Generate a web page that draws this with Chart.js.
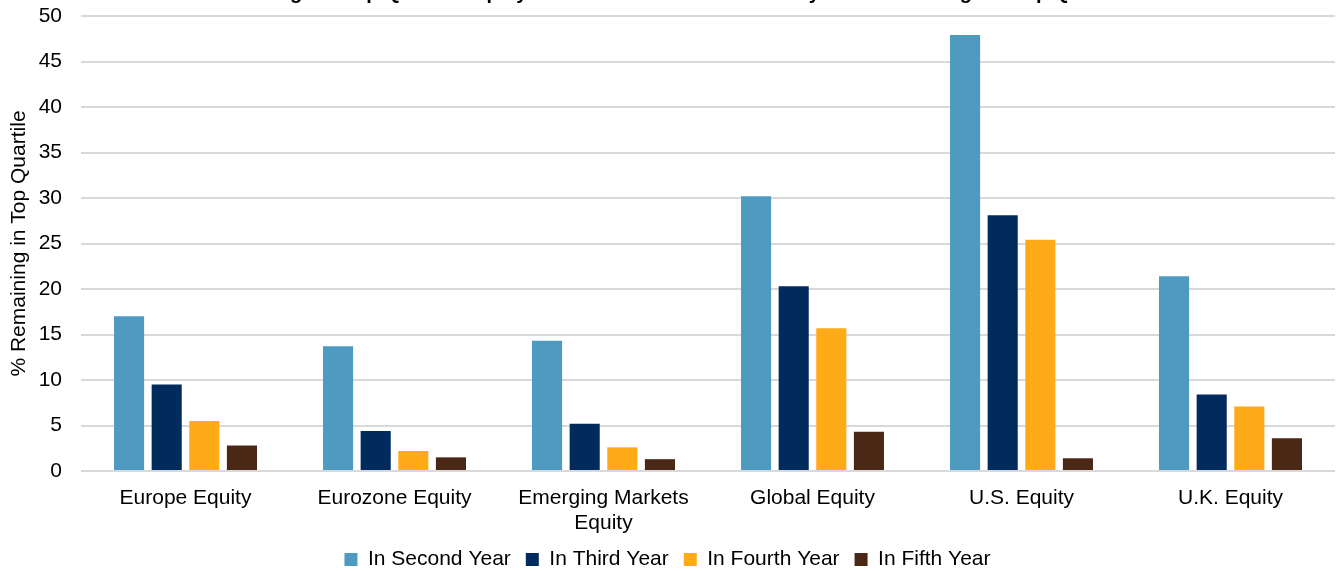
<!DOCTYPE html>
<html lang="en">
<head>
    <meta charset="UTF-8">
    <title>Top-Quartile Equity Funds</title>
    <style>
        body {
            margin: 0;
            padding: 0;
            background: #ffffff;
        }
        .frame {
            position: relative;
            width: 1336px;
            height: 571px;
            overflow: hidden;
        }
        .inner {
            position: absolute;
            left: 0;
            top: -16px;
            width: 1336px;
            height: 596px;
        }
    </style>
</head>
<body>
    <div class="frame">
        <div class="inner">
            <canvas id="chart"></canvas>
        </div>
    </div>

    <script src="https://cdn.jsdelivr.net/npm/chart.js"></script>
    <script>
        // categories along the x axis
        const categories = [
            'Europe Equity',
            'Eurozone Equity',
            ['Emerging Markets', 'Equity'],
            'Global Equity',
            'U.S. Equity',
            'U.K. Equity'
        ];

        // % of top-quartile funds still in the top quartile
        const inSecondYear = [17.0, 13.7, 14.3, 30.2, 47.9, 21.4];
        const inThirdYear  = [9.5, 4.4, 5.2, 20.3, 28.1, 8.4];
        const inFourthYear = [5.5, 2.2, 2.6, 15.7, 25.4, 7.1];
        const inFifthYear  = [2.8, 1.5, 1.3, 4.3, 1.4, 3.6];

        const seriesNames = ['In Second Year', 'In Third Year', 'In Fourth Year', 'In Fifth Year'];
        const seriesColors = ['#4f9ac1', '#002b5c', '#ffab18', '#4b2716'];

        const titleText = 'Percentage of Top-Quartile Equity Funds That Have Consistently Ranked Among the Top Quartile';
        const yTitle = '% Remaining in Top Quartile';

        Chart.defaults.font.family = '"Liberation Sans", Arial, sans-serif';
        Chart.defaults.font.size = 21;
        Chart.defaults.color = '#000000';

        const seriesData = [inSecondYear, inThirdYear, inFourthYear, inFifthYear];

        new Chart(document.getElementById('chart'), {
            type: 'bar',
            data: {
                labels: categories,
                datasets: seriesData.map((values, i) => ({
                    label: seriesNames[i],
                    data: values,
                    backgroundColor: seriesColors[i],
                    borderWidth: 0,
                    categoryPercentage: 0.72,
                    barPercentage: 0.8
                }))
            },
            options: {
                responsive: true,
                maintainAspectRatio: false,
                animation: false,
                layout: {
                    padding: { left: 0, right: 1, top: 0, bottom: 0 }
                },
                plugins: {
                    // title sits mostly above the visible frame, as in the source image
                    title: {
                        display: true,
                        text: titleText,
                        font: { size: 20, weight: 'bold' },
                        padding: { top: -3, bottom: 11 }
                    },
                    legend: {
                        position: 'bottom',
                        labels: {
                            boxWidth: 13,
                            boxHeight: 13,
                            padding: 15
                        }
                    },
                    tooltip: { enabled: false }
                },
                scales: {
                    x: {
                        grid: { display: false, drawTicks: false },
                        border: { display: false },
                        ticks: {
                            padding: 14.4,
                            maxRotation: 0,
                            autoSkip: false,
                            font: { lineHeight: 1.19 }
                        },
                        afterFit: (axis) => { axis.height = 63; }
                    },
                    y: {
                        min: 0,
                        max: 50,
                        ticks: { stepSize: 5, padding: 19 },
                        grid: { color: '#d9d9d9', lineWidth: 2, drawTicks: false },
                        border: { display: false },
                        title: {
                            display: true,
                            text: yTitle,
                            padding: { top: 7, bottom: 7 }
                        },
                        afterFit: (axis) => { axis.width = 81; }
                    }
                }
            }
        });
    </script>
</body>
</html>
